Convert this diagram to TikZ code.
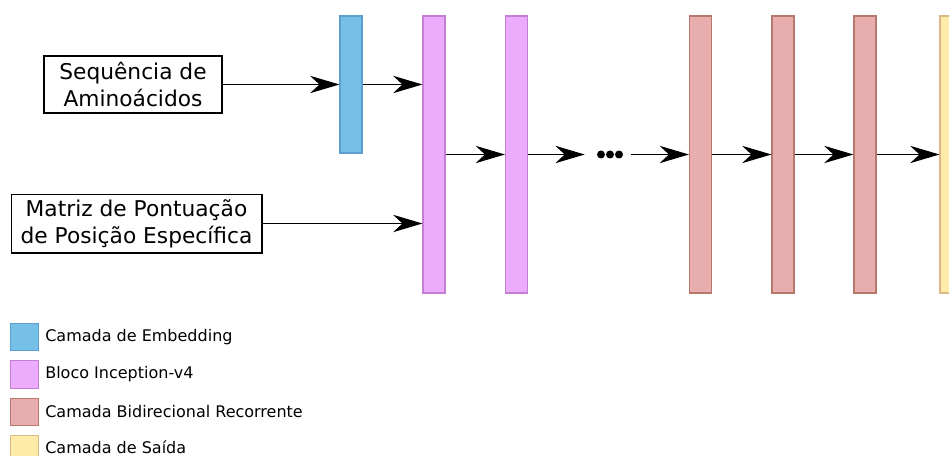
\documentclass[tikz,border=0pt]{standalone}
\usepackage{fontspec}
\setmainfont{DejaVu Sans}
\usetikzlibrary{arrows.meta, positioning}

\definecolor{embfill}{HTML}{76C0E8}
\definecolor{embline}{HTML}{5A9FD0}
\definecolor{incfill}{HTML}{EDABFC}
\definecolor{incline}{HTML}{C27FD4}
\definecolor{recfill}{HTML}{E8AEAD}
\definecolor{recline}{HTML}{B7776A}
\definecolor{outfill}{HTML}{FFEBA8}
\definecolor{outline}{HTML}{D9B888}

\begin{document}
\begin{tikzpicture}[
    x=0.75pt, y=-0.75pt,
    node distance=6.75pt and 4.5pt,
    layer/.style={rectangle, inner sep=0, line width=0.8pt, minimum width=16.5pt, minimum height=207.75pt},
    embed/.style={layer, draw=embline, fill=embfill, minimum height=102.75pt},
    inception/.style={layer, draw=incline, fill=incfill},
    recurrent/.style={layer, draw=recline, fill=recfill},
    output/.style={layer, draw=outline, fill=outfill},
    inputbox/.style={rectangle, draw=black, line width=1pt, align=center, font=\fontsize{16.3}{20.5}\selectfont, inner sep=0},
    legendkey/.style={rectangle, inner sep=0, line width=0.8pt, minimum width=21pt, minimum height=20.5pt},
    legendtext/.style={font=\fontsize{12}{14}\selectfont, inner sep=0, anchor=west},
    arrow/.style={line width=1.4pt, -{Stealth[length=22pt, width=13pt, inset=7pt]}}
]
\useasboundingbox (0,0) rectangle (949,456);

% Inputs
\node (seq) [inputbox, minimum width=133.5pt, minimum height=42.75pt] at (133,84.5) {Sequência de\\Aminoácidos};
\node (pssm) [inputbox, minimum width=188pt, minimum height=44pt] at (136.5,223.5) {Matriz de Pontuação\\de Posição Específica};

% Layers
\node (emb) [embed] at (351,84.5) {};
\node (inc1) [inception] at (434,154.5) {};
\node (inc2) [inception] at (516.5,154.5) {};
\node (dots) [inner sep=0, minimum width=34.5pt, minimum height=6pt] at (608,154.5) {};
\node (rec1) [recurrent] at (700.5,154.5) {};
\node (rec2) [recurrent] at (783,154.5) {};
\node (rec3) [recurrent] at (865,154.5) {};
\node (out) [output] at (951,154.5) {};

\foreach \dx in {-7,2,11}
    \fill ([xshift=\dx*0.75pt]dots.center) circle (3pt);

% Connections
\draw [arrow] (seq.east) -- (emb.west);
\draw [arrow] (emb.east) -- (emb.east -| inc1.west);
\draw [arrow] (pssm.east) -- (pssm.east -| inc1.west);
\draw [arrow] (inc1) -- (inc2);
\draw [arrow] (inc2) -- (dots);
\draw [arrow] (dots) -- (rec1);
\draw [arrow] (rec1) -- (rec2);
\draw [arrow] (rec2) -- (rec3);
\draw [arrow] (rec3) -- (out);

% Legend
\node (key1) [legendkey, draw=embline, fill=embfill] at (24.5,337) {};
\node (key2) [legendkey, draw=incline, fill=incfill, below=of key1] {};
\node (key3) [legendkey, draw=recline, fill=recfill, below=of key2] {};
\node (key4) [legendkey, draw=outline, fill=outfill, below=of key3] {};

\node (lbl1) [legendtext, right=of key1] {Camada de Embedding};
\node (lbl2) [legendtext, right=of key2] {Bloco Inception-v4};
\node (lbl3) [legendtext, right=of key3] {Camada Bidirecional Recorrente};
\node (lbl4) [legendtext, right=of key4, yshift=1.5pt] {Camada de Saída};

\end{tikzpicture}
\end{document}
